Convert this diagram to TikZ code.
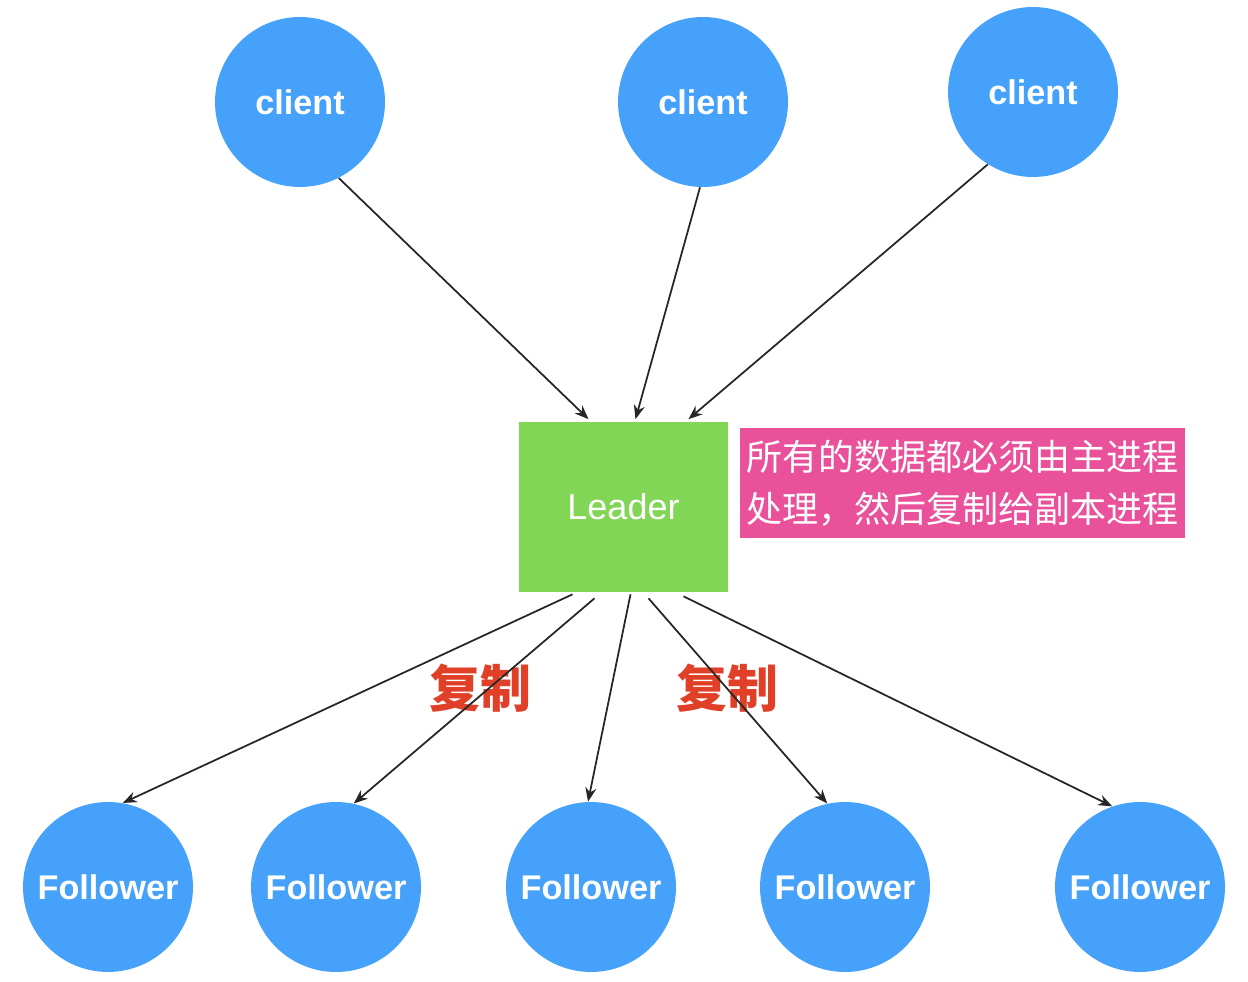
\documentclass[tikz,border=0pt]{standalone}
\usepackage{fontspec}
\setmainfont{Liberation Sans}
\newfontfamily\cjk{Noto Sans CJK SC}
\usetikzlibrary{arrows.meta}
\definecolor{nodeblue}{RGB}{69,161,249}
\definecolor{leadgreen}{RGB}{130,214,85}
\definecolor{notepink}{RGB}{233,82,155}
\definecolor{copyred}{RGB}{224,64,40}
\tikzset{
    peer/.style={circle, fill=nodeblue, minimum size=3.4cm, inner sep=0pt,
        text=white, font=\fontsize{19.5}{22}\selectfont\bfseries},
    leadbox/.style={rectangle, fill=leadgreen, minimum width=4.18cm, minimum height=3.4cm,
        text=white, font=\fontsize{20.5}{24}\selectfont},
    notebox/.style={rectangle, fill=notepink, minimum width=8.9cm, minimum height=2.2cm,
        inner sep=2pt, align=left, text=white, font=\cjk\fontsize{20.5}{29.5}\selectfont},
    copylabel/.style={text=copyred, font=\cjk\fontsize{29}{32}\selectfont\bfseries},
    flow/.style={-{Stealth[length=2.8mm,width=2.2mm]}, line width=1pt, black!85}
}
\begin{document}
\begin{tikzpicture}[x=0.02cm, y=-0.02cm]
\useasboundingbox (0,0) rectangle (1248,982);

% clients
\node[peer] (c1) at (300,102) {client};
\node[peer] (c2) at (703,102) {client};
\node[peer] (c3) at (1033,92) {client};

% leader and note
\node[leadbox] (leader) at (623.5,507) {Leader};
\node[notebox] (note) at (962.5,483) {所有的数据都必须由主进程\\处理，然后复制给副本进程};

% followers
\node[peer] (f1) at (108,887) {Follower};
\node[peer] (f2) at (336,887) {Follower};
\node[peer] (f3) at (591,887) {Follower};
\node[peer] (f4) at (845,887) {Follower};
\node[peer] (f5) at (1140,887) {Follower};

\node[copylabel] (copyl) at (480,688) {复制};
\node[copylabel] (copyr) at (727,688) {复制};

\draw[flow] (c1.-63) -- ([xshift=-0.7cm, yshift=0.05cm]leader.north);
\draw[flow] (c2.-92) -- ([xshift=0.24cm, yshift=0.05cm]leader.north);
\draw[flow] (c3.-122) -- ([xshift=1.3cm, yshift=0.05cm]leader.north);

\draw[flow] ([xshift=-1.02cm, yshift=-0.04cm]leader.south) -- (f1.80);
\draw[flow] ([xshift=-0.58cm, yshift=-0.12cm]leader.south) -- (f2.78);
\draw[flow] ([xshift=0.14cm, yshift=-0.04cm]leader.south) -- (f3.92);
\draw[flow] ([xshift=0.5cm, yshift=-0.12cm]leader.south) -- (f4.102);
\draw[flow] ([xshift=1.2cm, yshift=-0.08cm]leader.south) -- (f5.109);
\end{tikzpicture}
\end{document}
